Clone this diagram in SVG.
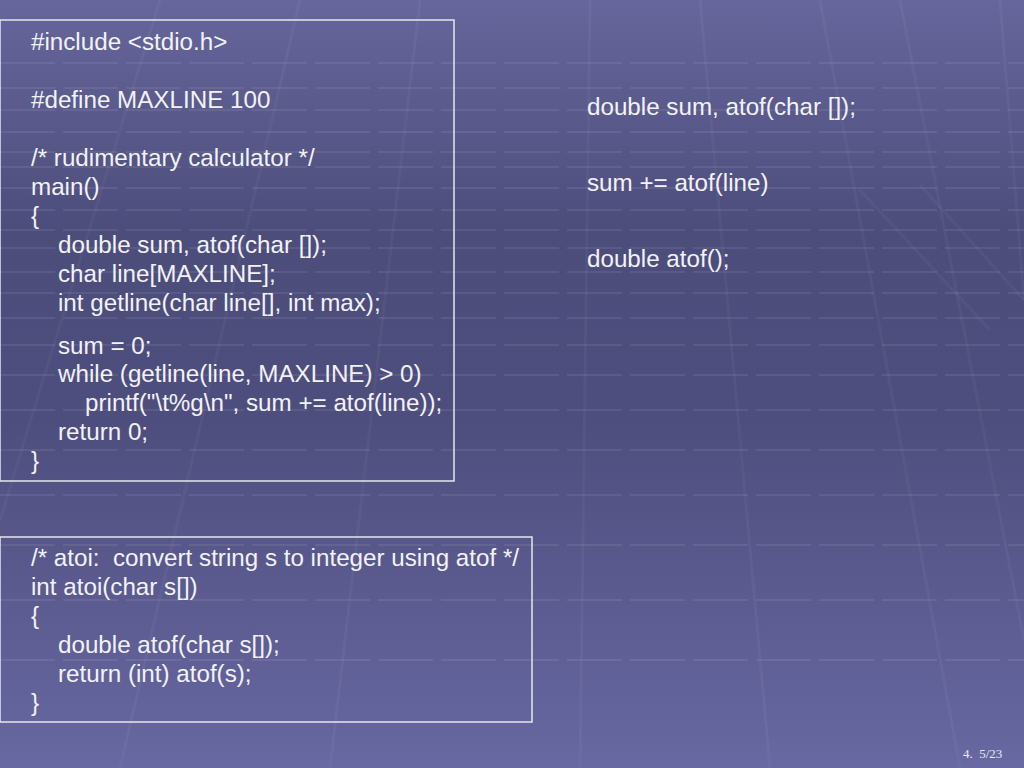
<svg xmlns="http://www.w3.org/2000/svg" width="1024" height="768" viewBox="0 0 1024 768">
<style>
.code{font-family:"Liberation Sans",Arial,sans-serif;font-size:24.2px;fill:#f2f2f6;white-space:pre}
.box{fill:none;stroke:#e6e6f0;stroke-width:1.5}
.grid{stroke:#ffffff;stroke-opacity:0.08;stroke-width:2;fill:none}
.diag{stroke:#ffffff;stroke-opacity:0.04;stroke-width:3;fill:none}
.foot{font-family:"Liberation Serif","Times New Roman",serif;font-size:13px;fill:#e8e8f0;white-space:pre}
</style>
<defs>
<linearGradient id="bg" x1="0" y1="0" x2="0" y2="1">
<stop offset="0" stop-color="#66669c"/>
<stop offset="0.3" stop-color="#4d4d7c"/>
<stop offset="0.55" stop-color="#4e4e7e"/>
<stop offset="1" stop-color="#6868a2"/>
</linearGradient>
</defs>
<rect width="1024" height="768" fill="url(#bg)"/>
<g id="background-grid">
<g class="grid" stroke-dasharray="55 8">
<path d="M0 63H1024M0 88H1024M0 110H1024M0 132H1024M0 152H1024M0 167H1024M0 188H1024M0 210H1024M0 230H1024M0 248H1024M0 272H1024M0 293H1024M0 318H1024M0 345H1024M0 375H1024M0 410H1024M0 450H1024M0 495H1024M0 545H1024M0 600H1024M0 660H1024"/>
</g>
<g class="diag">
<path d="M0 520L160 0M120 768L300 0M330 768L420 0M580 768L590 0M770 768L700 0M960 768L820 0M1024 640L900 0M1024 300L1000 0"/>
<path d="M860 190L990 330M920 185L1024 300"/>
</g>
</g>
<g id="node-main">
<rect class="box" x="0" y="20" width="454" height="461"/>
<text class="code" x="31" y="50">#include &lt;stdio.h&gt;</text>
<text class="code" x="31" y="108">#define MAXLINE 100</text>
<text class="code" x="31" y="166">/* rudimentary calculator */</text>
<text class="code" x="31" y="195">main()</text>
<text class="code" x="31" y="224">{</text>
<text class="code" x="58" y="253">double sum, atof(char []);</text>
<text class="code" x="58" y="282">char line[MAXLINE];</text>
<text class="code" x="58" y="311">int getline(char line[], int max);</text>
<text class="code" x="58" y="354">sum = 0;</text>
<text class="code" x="58" y="382">while (getline(line, MAXLINE) &gt; 0)</text>
<text class="code" x="85" y="411">printf("\t%g\n", sum += atof(line));</text>
<text class="code" x="58" y="440">return 0;</text>
<text class="code" x="31" y="469">}</text>
</g>
<g id="node-notes">
<text class="code" x="587" y="115">double sum, atof(char []);</text>
<text class="code" x="587" y="191">sum += atof(line)</text>
<text class="code" x="587" y="267">double atof();</text>
</g>
<g id="node-atoi">
<rect class="box" x="0" y="537" width="532" height="185"/>
<text class="code" x="31" y="566" xml:space="preserve">/* atoi:  convert string s to integer using atof */</text>
<text class="code" x="31" y="595">int atoi(char s[])</text>
<text class="code" x="31" y="624">{</text>
<text class="code" x="58" y="653">double atof(char s[]);</text>
<text class="code" x="58" y="682">return (int) atof(s);</text>
<text class="code" x="31" y="711">}</text>
</g>
<g id="connectors"/>
<text class="foot" x="963" y="758" xml:space="preserve">4.  5/23</text>
</svg>
